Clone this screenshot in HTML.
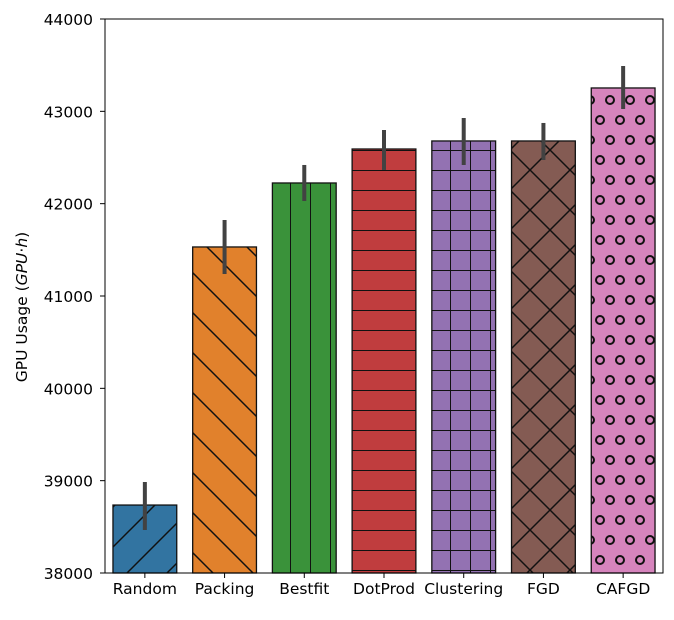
<!DOCTYPE html>
<html><head><meta charset="utf-8"><style>
body{margin:0;background:#fff;}
svg text{font-family:"DejaVu Sans","Liberation Sans",sans-serif;font-size:15.5px;fill:#000;}
</style></head><body>
<svg id="chart" width="674" height="615" viewBox="0 0 674 615" xmlns="http://www.w3.org/2000/svg">
<defs>
<pattern id="h-slash" patternUnits="userSpaceOnUse" width="40" height="40" x="10" y="10"><path d="M-10,10 L10,-10 M0,40 L40,0 M30,50 L50,30" stroke="#111" stroke-width="1.5"/></pattern>
<pattern id="h-back" patternUnits="userSpaceOnUse" width="40" height="40" x="10" y="10"><path d="M-10,30 L10,50 M0,0 L40,40 M30,-10 L50,10" stroke="#111" stroke-width="1.5"/></pattern>
<pattern id="h-vert" patternUnits="userSpaceOnUse" width="20" height="20" x="10" y="10"><path d="M0,0 L0,20" stroke="#111" stroke-width="2"/></pattern>
<pattern id="h-horiz" patternUnits="userSpaceOnUse" width="20" height="20" x="10" y="10"><path d="M0,0 L20,0" stroke="#111" stroke-width="2"/></pattern>
<pattern id="h-plus" patternUnits="userSpaceOnUse" width="20" height="20" x="10" y="10"><path d="M0,0 L0,20 M0,0 L20,0" stroke="#111" stroke-width="2"/></pattern>
<pattern id="h-x" patternUnits="userSpaceOnUse" width="40" height="40" x="10" y="10"><path d="M-10,10 L10,-10 M0,40 L40,0 M30,50 L50,30 M-10,30 L10,50 M0,0 L40,40 M30,-10 L50,10" stroke="#111" stroke-width="1.5"/></pattern>
<pattern id="h-o" patternUnits="userSpaceOnUse" width="20" height="40" x="0" y="0"><g fill="none" stroke="#111" stroke-width="2"><circle cx="10" cy="20" r="4"/><circle cx="0" cy="0" r="4"/><circle cx="20" cy="0" r="4"/><circle cx="0" cy="40" r="4"/><circle cx="20" cy="40" r="4"/></g></pattern>
</defs>
<g id="plot"></g>
</svg>
<script>
const categories=["Random","Packing","Bestfit","DotProd","Clustering","FGD","CAFGD"];
const values=[38736,41531,42224,42592,42679,42679,43253];
const errLow=[38466,41238,42029,42365,42419,42473,43025];
const errHigh=[38985,41823,42419,42798,42928,42874,43491];
const yTicks=[38000,39000,40000,41000,42000,43000,44000];
const colors=["#3274a1","#e1812c","#3a923a","#c03d3e","#9372b2","#845b53","#d684bd"];
const hatches=["h-slash","h-back","h-vert","h-horiz","h-plus","h-x","h-o"];

const L=105,R=663,T=19,B=573,yMin=38000,yMax=44000;
const NS="http://www.w3.org/2000/svg";
const g=document.getElementById('plot');
function y(v){return B-(v-yMin)/(yMax-yMin)*(B-T);}
const step=(R-L)/categories.length;
function xc(i){return L+step*(i+0.5);}
function el(t,a){const e=document.createElementNS(NS,t);for(const k in a)e.setAttribute(k,a[k]);g.appendChild(e);return e;}

categories.forEach((c,i)=>{
  const w=step*0.8,x0=xc(i)-w/2,yt=y(values[i]);
  const r=el('rect',{x:x0,y:yt,width:w,height:B-yt,fill:colors[i]});
  
  
  const h=el('rect',{x:x0,y:yt,width:w,height:B-yt,fill:'url(#'+hatches[i]+')',stroke:'#111','stroke-width':1.3});
  
  
  const e=el('line',{x1:xc(i),x2:xc(i),y1:y(errLow[i]),y2:y(errHigh[i]),stroke:'#424242','stroke-width':4});
  
  
  const tk=el('line',{x1:xc(i),x2:xc(i),y1:B,y2:B+5,stroke:'#000','stroke-width':1});
  
  
  const t=el('text',{x:xc(i),y:B+21,'text-anchor':'middle'});
  t.textContent=c;
  
  
});
yTicks.forEach(v=>{
  const tk=el('line',{x1:L-5,x2:L,y1:y(v),y2:y(v),stroke:'#000','stroke-width':1});
  
  
  const t=el('text',{x:L-12,y:y(v)+6,'text-anchor':'end'});
  t.textContent=v;
  
  
});
const fr=el('rect',{x:L,y:T,width:R-L,height:B-T,fill:'none',stroke:'#000','stroke-width':1});


const yl=el('text',{x:0,y:0,transform:'translate(27,307) rotate(-90)','text-anchor':'middle','font-size':'14.5'});
yl.innerHTML='GPU Usage (<tspan font-style="italic">GPU</tspan>·<tspan font-style="italic">h</tspan>)';


</script>
</body></html>
